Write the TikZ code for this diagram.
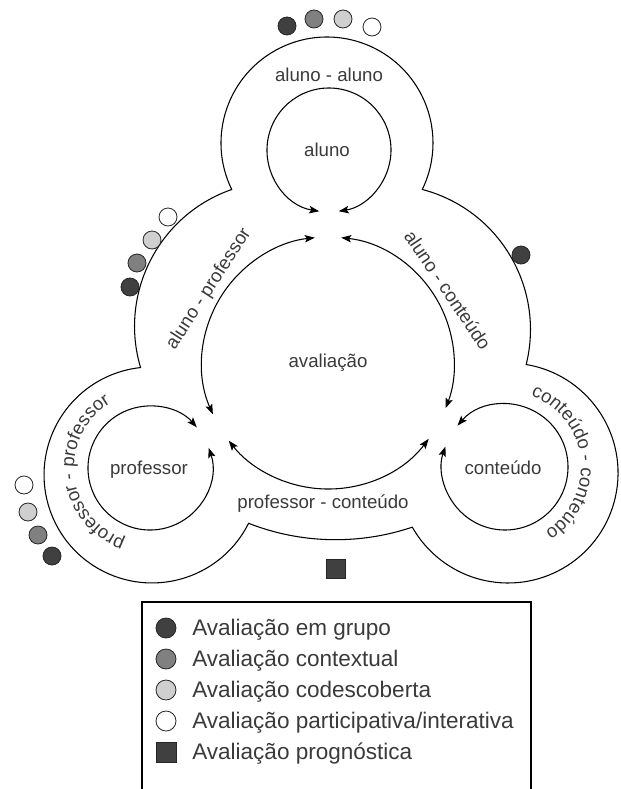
\documentclass[tikz,border=0pt]{standalone}
\usepackage{fontspec}
\setmainfont{Liberation Sans}
\usetikzlibrary{arrows.meta,decorations.text}

\definecolor{inkgray}{HTML}{3A3A3A}
\definecolor{dotdark}{HTML}{404040}
\definecolor{dotmid}{HTML}{808080}
\definecolor{dotlight}{HTML}{CFCFCF}

\newcommand{\diagfont}{\fontsize{14}{16}\selectfont}
\newcommand{\legfont}{\fontsize{16.9}{19}\selectfont}

\tikzset{
  ring/.style={line width=0.8pt},
  ringarrow/.style={line width=0.8pt,
    {Stealth[length=7.5pt,width=5.5pt,inset=1.5pt]}-{Stealth[length=7.5pt,width=5.5pt,inset=1.5pt]}},
  lbl/.style={inner sep=0pt, text=inkgray, font=\diagfont},
  legtext/.style={inner sep=0pt, text=inkgray, font=\legfont, anchor=base west},
  evaldot/.style={circle, draw=black!85, line width=0.6pt, inner sep=0pt, minimum size=13.5pt},
  legdot/.style={evaldot, minimum size=15pt},
  legsquare/.style={rectangle, fill=dotdark, draw=black!85, line width=0.6pt, inner sep=0pt, minimum size=15pt},
}

\begin{document}
\begin{tikzpicture}[x=0.75pt,y=0.75pt,yscale=-1,xscale=1]
  \useasboundingbox (0,0) rectangle (621,789);

  % centres
  \coordinate (centro) at (328,363);
  \coordinate (aluno) at (329,150);
  \coordinate (professor) at (150,468);
  \coordinate (conteudo) at (505,467);

  %Shape: outer contour
  \draw [ring] (327,143) ++(154:106) arc [start angle=154, end angle=386, radius=106]
    .. controls (499.1,209.6) and (545.2,287.5) .. (526.2,364.5)
    arc [start angle=279.5, end angle=510.5, radius=110]
    .. controls (359,545.1) and (301,543.8) .. (248.6,523.3)
    arc [start angle=26.6, end angle=263.9, radius=108]
    .. controls (118.5,293.5) and (158.7,214.9) .. (231.7,189.5) -- cycle ;

  %Arcs: small circles
  \draw [ringarrow] (aluno) ++(99:62) arc [start angle=99, end angle=441, radius=62] ;
  \draw [ringarrow] (professor) ++(341:62) arc [start angle=341, end angle=679, radius=62] ;
  \draw [ringarrow] (conteudo) ++(221:63) arc [start angle=221, end angle=559, radius=63] ;

  %Arcs: central circle
  \draw [ringarrow] (centro) ++(37:126) arc [start angle=37, end angle=142, radius=126] ;
  \draw [ringarrow] (centro) ++(156:126) arc [start angle=156, end angle=264, radius=126] ;
  \draw [ringarrow] (centro) ++(276:126) arc [start angle=276, end angle=381, radius=126] ;

  % Text Node
  \node [lbl, anchor=base] (tAlunoAluno) at (329,81) {aluno - aluno};
  % Text Node
  \node [lbl, anchor=base] (tAluno) at (327,156) {aluno};
  % Text Node
  \node [lbl, anchor=base] (tAvaliacao) at (328,367) {avaliação};
  % Text Node
  \node [lbl, anchor=base] (tProfessor) at (149,474) {professor};
  % Text Node
  \node [lbl, anchor=base] (tConteudo) at (503,474) {conteúdo};
  % Text Node
  \node [lbl, anchor=base] (tProfCont) at (323,508) {professor - conteúdo};
  % Text Node
  \node [lbl, rotate=57] (tAlunoProf) at (209,289) {aluno - professor};
  % Text Node
  \node [lbl, rotate=-56] (tAlunoCont) at (448,290) {aluno - conteúdo};

  % Curved Text
  \begin{scope}[yscale=-1]
    \path [decorate, decoration={text along path, text color=inkgray,
        text={|\diagfont|professor - professor}, text align=center}]
      (150,-468) ++(-94:76) arc [start angle=-94, end angle=-254, radius=76] ;
    \path [decorate, decoration={text along path, text color=inkgray,
        text={|\diagfont|conteúdo - conteúdo}, text align=center}]
      (505,-467) ++(86:76) arc [start angle=86, end angle=-74, radius=76] ;
  \end{scope}

  %Shape: dots aluno - aluno
  \node [evaldot, fill=dotdark] (aa1) at (287,26) {};
  \node [evaldot, fill=dotmid] (aa2) at (314,19) {};
  \node [evaldot, fill=dotlight] (aa3) at (343,19) {};
  \node [evaldot, fill=white] (aa4) at (372,27) {};
  %Shape: dots aluno - professor
  \node [evaldot, fill=white] (ap1) at (168,217) {};
  \node [evaldot, fill=dotlight] (ap2) at (152,240) {};
  \node [evaldot, fill=dotmid] (ap3) at (137,263) {};
  \node [evaldot, fill=dotdark] (ap4) at (130,287) {};
  %Shape: dots professor - professor
  \node [evaldot, fill=white] (pp1) at (24,485) {};
  \node [evaldot, fill=dotlight] (pp2) at (28,512) {};
  \node [evaldot, fill=dotmid] (pp3) at (38,535) {};
  \node [evaldot, fill=dotdark] (pp4) at (52,556) {};
  %Shape: dot aluno - conteudo
  \node [evaldot, fill=dotdark] (ac1) at (521,255) {};
  %Shape: square professor - conteudo
  \node [legsquare, minimum size=14.5pt] (pc1) at (336,569) {};

  %Legend frame
  \draw [line width=0.8pt] (142,789) -- (142,602) -- (531,602) -- (531,789) ;

  % Legend
  \node [legdot, fill=dotdark] (lg1) at (166,628) {};
  \node [legtext] (lt1) at (192,635) {Avaliação em grupo};
  \node [legdot, fill=dotmid] (lg2) at (166,659) {};
  \node [legtext] (lt2) at (192,666) {Avaliação contextual};
  \node [legdot, fill=dotlight] (lg3) at (166,690) {};
  \node [legtext] (lt3) at (192,697) {Avaliação codescoberta};
  \node [legdot, fill=white] (lg4) at (166,721) {};
  \node [legtext] (lt4) at (192,728) {Avaliação participativa/interativa};
  \node [legsquare] (lg5) at (166,752) {};
  \node [legtext] (lt5) at (192,759) {Avaliação prognóstica};

\end{tikzpicture}
\end{document}
